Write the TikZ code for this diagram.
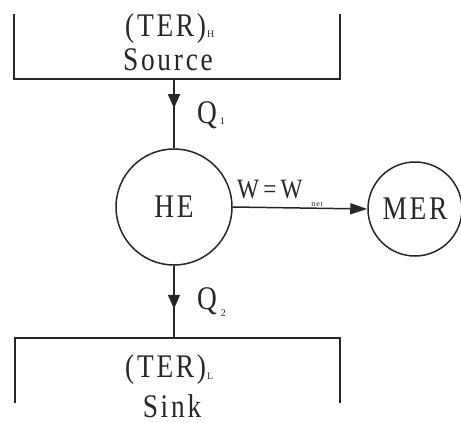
\documentclass[tikz,border=0pt]{standalone}
\usepackage{fontspec}
\setmainfont{Liberation Serif}
\newfontfamily\spacedfont[LetterSpace=10]{Liberation Serif}
\usetikzlibrary{arrows.meta,decorations.markings}
\definecolor{ink}{HTML}{262626}
\tikzset{
  big/.style={font=\spacedfont\fontsize{33}{35}\selectfont, inner sep=0pt, text=ink},
  mid/.style={font=\spacedfont\fontsize{28}{30}\selectfont, inner sep=0pt, text=ink},
  ring/.style={circle, draw=ink, line width=1.5pt, inner sep=0pt},
  openbox/.style={minimum width=#1, minimum height=65pt, inner sep=0pt},
  flow/.style={draw=ink, line width=1.5pt},
  midtip/.style={postaction={decorate}, decoration={markings,
     mark=at position #1 with {\arrow{Triangle[length=14pt,width=12pt]}}}},
}
\newcommand{\sq}[1]{\scalebox{0.83}[1]{#1}}
\newcommand{\tinysub}[2]{{\fontsize{#1}{#1}\selectfont #2}}
\begin{document}
\begin{tikzpicture}[x=1pt,y=-1pt]
\useasboundingbox (0,0) rectangle (461,423);
% boxes
\node[openbox=326pt] (src) at (177,46.5) {};
\node[openbox=325pt] (snk) at (177.5,370.5) {};
\draw[flow] (src.north west) -- (src.south west) -- (src.south east) -- (src.north east);
\draw[flow] (snk.south west) -- (snk.north west) -- (snk.north east) -- (snk.south east);
% texts of boxes
\node[big, anchor=base west] (terh) at (125,36) {\sq{(TER)}\kern1pt\raisebox{-1pt}{\tinysub{10}{H}}};
\node[big, anchor=base] (source) at (168,70) {\sq{Source}};
\node[big, anchor=base west] (terl) at (125,377) {\sq{(TER)}\kern1pt\raisebox{-2pt}{\tinysub{10}{L}}};
\node[big, anchor=base] (sink) at (172,417) {\sq{Sink}};
% circles
\node[ring, minimum size=116pt, big] (he) at (174,207) {\sq{HE}};
\node[ring, minimum size=94pt, big] (mer) at (415,209) {\sq{MER}};
% connectors
\draw[flow, midtip=29pt] (he.north |- src.south) -- (he.north);
\draw[flow, midtip=43pt] (he.south) -- (he.south |- snk.north);
\draw[flow, -{Triangle[length=17pt,width=11pt]}] (he.east) -- (mer.west);
% labels
\node[big, anchor=base west] (q1) at (197,123) {\sq{Q}\kern3pt\raisebox{-1pt}{\tinysub{10}{1}}};
\node[big, anchor=base west] (q2) at (197,309) {\sq{Q}\kern4pt\raisebox{-7pt}{\tinysub{10}{2}}};
\node[mid, anchor=base west] (w) at (237,198) {\sq{W\kern5pt=\kern5pt W}\kern9pt\raisebox{-8pt}{\tinysub{8}{net}}};
\end{tikzpicture}
\end{document}
